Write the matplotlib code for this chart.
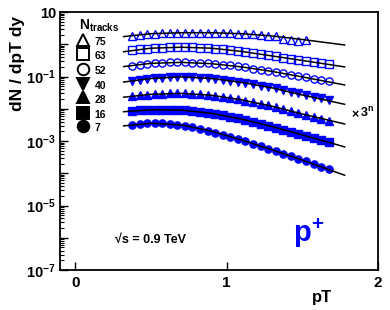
import numpy as np
import matplotlib

matplotlib.use("Agg")
import matplotlib.pyplot as plt

plt.rcParams["font.family"] = ["Liberation Sans", "DejaVu Sans"]
plt.rcParams["font.weight"] = "bold"
plt.rcParams["mathtext.fontset"] = "custom"
plt.rcParams["mathtext.rm"] = "Liberation Sans:bold"
plt.rcParams["mathtext.bf"] = "Liberation Sans:bold"
plt.rcParams["mathtext.it"] = "Liberation Sans:bold"

# multiplicity classes, top to bottom (spectra scaled by 3^n)
n_tracks = ["75", "63", "52", "40", "28", "16", "7"]
markers = ["^", "s", "o", "v", "^", "s", "o"]
filled = [False, False, False, True, True, True, True]

# measured points: pT bin centres and log10(dN/dpT dy)
pt = [0.375, 0.425, 0.475, 0.525, 0.575, 0.625, 0.675, 0.725, 0.775,
      0.825, 0.875, 0.925, 0.975, 1.025, 1.075, 1.125, 1.175, 1.225,
      1.275, 1.325, 1.375, 1.425, 1.475, 1.525, 1.575, 1.625, 1.675]

log_y = {
    "75": [0.27, 0.295, 0.32, 0.335, 0.345, 0.352, 0.358, 0.36, 0.362,
           0.362, 0.36, 0.358, 0.352, 0.345, 0.335, 0.325, 0.31, 0.29,
           0.27, 0.25, 0.16, 0.12, 0.11, 0.145],
    "63": [-0.19, -0.16, -0.13, -0.11, -0.10, -0.09, -0.09, -0.09, -0.095,
           -0.10, -0.11, -0.13, -0.15, -0.175, -0.205, -0.235, -0.27, -0.305,
           -0.34, -0.375, -0.41, -0.445, -0.48, -0.515, -0.55, -0.585, -0.62],
    "52": [-0.66, -0.63, -0.60, -0.585, -0.57, -0.56, -0.56, -0.56, -0.565,
           -0.575, -0.59, -0.61, -0.63, -0.655, -0.685, -0.715, -0.75, -0.785,
           -0.82, -0.86, -0.90, -0.94, -0.98, -1.02, -1.06, -1.10, -1.14],
    "40": [-1.14, -1.10, -1.07, -1.05, -1.03, -1.02, -1.01, -1.01, -1.02,
           -1.03, -1.05, -1.07, -1.10, -1.13, -1.165, -1.20, -1.24, -1.28,
           -1.325, -1.37, -1.42, -1.47, -1.52, -1.57, -1.62, -1.67, -1.72],
    "28": [-1.61, -1.58, -1.56, -1.54, -1.53, -1.52, -1.52, -1.52, -1.53,
           -1.545, -1.565, -1.595, -1.63, -1.665, -1.70, -1.745, -1.79, -1.84,
           -1.89, -1.95, -2.01, -2.07, -2.13, -2.19, -2.25, -2.31, -2.37],
    "16": [-2.07, -2.05, -2.035, -2.03, -2.03, -2.035, -2.04, -2.05, -2.07,
           -2.095, -2.125, -2.16, -2.20, -2.245, -2.29, -2.345, -2.40, -2.46,
           -2.52, -2.58, -2.645, -2.71, -2.775, -2.84, -2.905, -2.97, -3.035],
    "7": [-2.50, -2.47, -2.455, -2.45, -2.455, -2.47, -2.495, -2.53, -2.575,
          -2.625, -2.68, -2.74, -2.80, -2.87, -2.94, -3.01, -3.085, -3.16,
          -3.235, -3.31, -3.39, -3.47, -3.55, -3.63, -3.71, -3.79, -3.87],
}

# fit curves read at a few pT values (log10)
fit_pt = [0.32, 0.5, 0.7, 0.9, 1.1, 1.3, 1.5, 1.78]
fit_log = {
    "75": [0.24, 0.33, 0.36, 0.36, 0.33, 0.26, 0.15, -0.02],
    "63": [-0.23, -0.12, -0.09, -0.12, -0.22, -0.36, -0.50, -0.70],
    "52": [-0.69, -0.59, -0.56, -0.60, -0.70, -0.84, -1.01, -1.26],
    "40": [-1.17, -1.06, -1.01, -1.06, -1.18, -1.35, -1.57, -1.86],
    "28": [-1.64, -1.55, -1.52, -1.58, -1.72, -1.92, -2.16, -2.47],
    "16": [-2.09, -2.03, -2.04, -2.14, -2.32, -2.55, -2.81, -3.18],
    "7": [-2.53, -2.45, -2.50, -2.69, -2.97, -3.27, -3.59, -4.06],
}

# legend rows, y in axes fraction
legend_y = [0.892, 0.838, 0.78, 0.723, 0.669, 0.61, 0.558]

fig = plt.figure(figsize=(3.9, 3.1), dpi=100)
ax = fig.add_axes([0.154, 0.129, 0.815, 0.832])

for key, m, f in zip(n_tracks, markers, filled):
    ys = 10 ** np.array(log_y[key])
    ax.plot(pt[:len(ys)], ys, linestyle="none", marker=m, ms=5.2,
            mfc="blue" if f else "none", mec="blue", mew=1.0)
for key in n_tracks:
    ax.plot(fit_pt, 10 ** np.array(fit_log[key]), color="black", lw=1.1)

ax.set_yscale("log")
ax.set_xlim(-0.1, 2.0)
ax.set_ylim(1e-7, 10)

ax.set_xticks([0, 1, 2])
ax.set_xticklabels(["0", "1", "2"])
ax.set_yticks([10.0 ** k for k in range(-7, 2)])
ax.set_yticklabels([r"$\mathbf{10^{%d}}$" % k if k % 2 and k != 1 else
                    ("10" if k == 1 else "") for k in range(-7, 2)])
ax.set_yticks([j * 10.0 ** k for k in range(-7, 1) for j in range(2, 10)],
              minor=True)
ax.tick_params(axis="y", which="major", direction="in", length=6, width=1,
               labelsize=10.5, pad=3, right=False)
ax.tick_params(axis="y", which="minor", direction="in", length=3, width=0.8,
               right=False)
ax.tick_params(axis="x", which="major", direction="in", length=5.5, width=1,
               labelsize=11, pad=4, top=False)
ax.tick_params(axis="x", which="minor", bottom=False, top=False)
for s in ax.spines.values():
    s.set_linewidth(1.3)

# legend drawn by hand, ROOT-style
ax.text(0.06, 0.945, r"$\mathbf{N_{tracks}}$", transform=ax.transAxes,
        fontsize=10, va="center", ha="left")
for lab, m, f, y in zip(n_tracks, markers, filled, legend_y):
    ax.plot([0.072], [y], transform=ax.transAxes, marker=m, ms=8.3,
            mfc="black" if f else "none", mec="black", mew=1.4,
            linestyle="none", clip_on=False)
    ax.text(0.108, y - 0.008, lab, transform=ax.transAxes, fontsize=7.5,
            va="center", ha="left")

ax.text(0.915, 0.605, r"$\times$", transform=ax.transAxes, fontsize=9,
        va="center", ha="left", fontweight="normal")
ax.text(0.945, 0.608, r"$\mathbf{3^{n}}$", transform=ax.transAxes,
        fontsize=9, va="center", ha="left")
ax.text(0.173, 0.116, "√s = 0.9 TeV", transform=ax.transAxes, fontsize=9,
        va="center", ha="left")
ax.text(0.733, 0.109, r"$\mathbf{p^{+}}$", transform=ax.transAxes,
        fontsize=21, color="blue", va="baseline", ha="left")

fig.text(0.826, 0.039, "pT", fontsize=12, ha="center", va="center")
fig.text(0.044, 0.794, "dN / dpT dy", fontsize=12.5, rotation=90,
         ha="center", va="center")

fig.savefig("out.png", dpi=100)
